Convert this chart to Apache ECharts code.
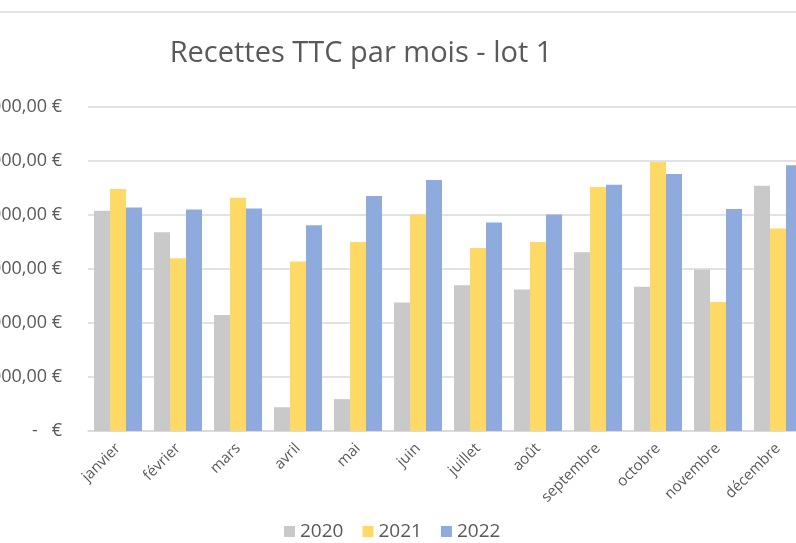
<!DOCTYPE html>
<html>
<head>
<meta charset="utf-8">
<script src="https://cdn.jsdelivr.net/npm/echarts@6/dist/echarts.min.js"></script>
<style>
html,body{margin:0;padding:0;background:#fff;}
#chart{width:796px;height:543px;}
</style>
</head>
<body>
<div id="chart"></div>
<script>
const months = ['janvier','février','mars','avril','mai','juin','juillet','août','septembre','octobre','novembre','décembre'];
const seriesNames = ['2020','2021','2022'];
const values2020 = [40800, 36800, 21500, 4400, 5900, 23800, 27000, 26200, 33100, 26700, 29900, 45400];
const values2021 = [44800, 32000, 43200, 31400, 35000, 40100, 33900, 35000, 45200, 49800, 23900, 37500];
const values2022 = [41400, 41000, 41200, 38100, 43500, 46500, 38600, 40100, 45600, 47600, 41100, 49200];
const yMin = 0, yMax = 60000, yStep = 10000;
const colors = ['#C9C9C9', '#FFD965', '#8FAADC'];

const FONT = '"Open Sans", Lato, sans-serif';
function fmtEuro(v) {
  if (v === 0) return '-   €';
  return String(v).replace(/\B(?=(\d{3})+(?!\d))/g, '\u00a0') + ',00 €';
}

const chart = echarts.init(document.getElementById('chart'));
const allValues = [values2020, values2021, values2022];
chart.setOption({
  animation: false,
  backgroundColor: '#ffffff',
  color: colors,
  title: {
    text: 'Recettes TTC par mois - lot 1',
    left: 356, top: 34, textAlign: 'center',
    textStyle: { fontFamily: FONT, fontSize: 29, fontWeight: 'normal', color: '#595959' }
  },
  graphic: [{
    type: 'line', shape: { x1: 0, y1: 12, x2: 796, y2: 12 },
    style: { stroke: '#D9D9D9', lineWidth: 1.5 }
  }],
  legend: {
    left: 279, top: 517,
    itemWidth: 11, itemHeight: 11, itemGap: 19,
    icon: 'rect',
    textStyle: { fontFamily: FONT, fontSize: 19, color: '#595959' },
    data: seriesNames
  },
  grid: { left: 88, top: 107, width: 720, height: 324, containLabel: false, outerBoundsMode: 'none' },
  xAxis: {
    type: 'category', data: months,
    axisLine: { lineStyle: { color: '#D9D9D9', width: 1.5 } },
    axisTick: { show: false },
    axisLabel: { rotate: 45, margin: 15, interval: 0, fontFamily: FONT, fontSize: 15, color: '#595959' }
  },
  yAxis: {
    type: 'value', min: yMin, max: yMax, interval: yStep,
    axisLine: { show: false }, axisTick: { show: false },
    splitLine: { lineStyle: { color: '#D9D9D9', width: 1.5 } },
    axisLabel: { margin: 26, fontFamily: FONT, fontSize: 18, color: '#595959', formatter: fmtEuro }
  },
  series: seriesNames.map((n, i) => ({
    name: n, type: 'bar', data: allValues[i],
    barWidth: 16, barGap: '0%', barCategoryGap: '20%',
    itemStyle: { color: colors[i] }
  }))
});
</script>
</body>
</html>
